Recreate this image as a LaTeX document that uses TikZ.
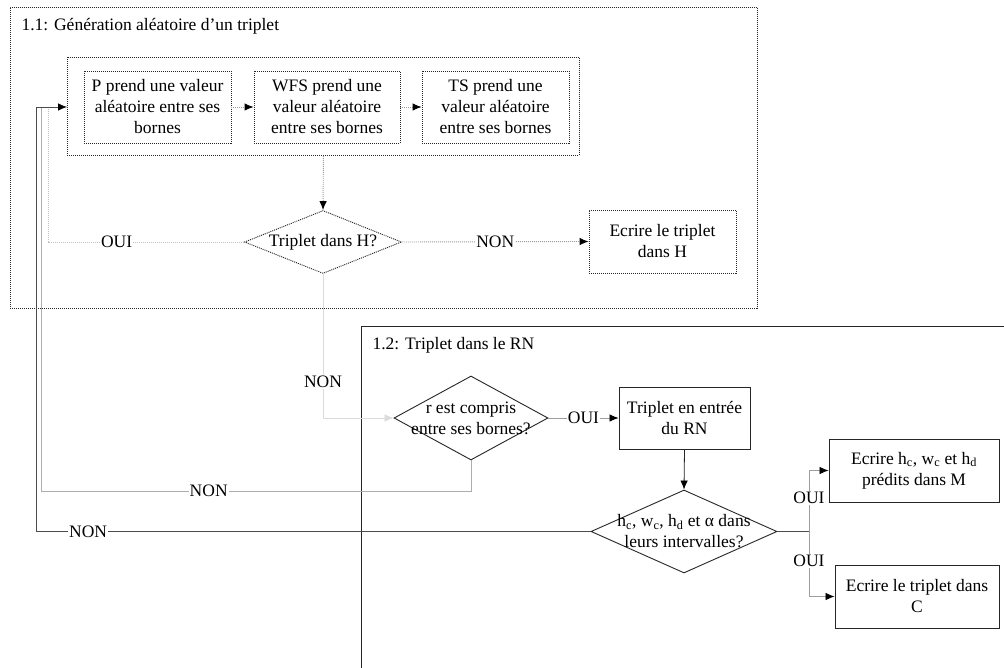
\documentclass[tikz,border=0pt]{standalone}
\usepackage{fontspec}
\setmainfont{Liberation Serif}
\usetikzlibrary{arrows.meta,shapes.geometric}
\definecolor{lgA}{gray}{0.62}
\definecolor{lgB}{gray}{0.86}
\definecolor{lgC}{gray}{0.68}
\definecolor{dkA}{gray}{0.30}
\tikzset{
  dotline/.style={dash pattern=on 1pt off 1pt, line width=0.9pt},
  dotbox/.style={draw=black!85, dotline, rectangle, inner sep=0pt, align=center},
  solidbox/.style={draw=black!85, line width=0.9pt, rectangle, inner sep=0pt, align=center},
  dotdiam/.style={draw=black!85, dotline, diamond, inner sep=0pt, minimum width=157pt, minimum height=63pt},
  soldiam/.style={draw=black!85, line width=0.9pt, diamond, inner sep=0pt},
  arr/.style={-{Latex[length=9pt,width=7.5pt,color=black]}},
  lbl/.style={fill=white, inner sep=1pt},
  conn/.style={line width=0.8pt},
}
\begin{document}
\begin{tikzpicture}[x=1pt,y=-1pt,font=\fontsize{17.5}{21}\selectfont]
\useasboundingbox (0,0) rectangle (1004,668);
\clip (0,0) rectangle (1004,668);
\fill[white] (0,0) rectangle (1004,668);

% ---- region 1.1
\node[dotbox, anchor=north west, minimum width=747pt, minimum height=301pt] (box11) at (10,7) {};
\node[anchor=west] (t11) at (18,26) {1.1: Génération aléatoire d’un triplet};
\node[dotbox, anchor=north west, minimum width=512pt, minimum height=98pt] (inner) at (67,57) {};
\node[dotbox, minimum width=147pt, minimum height=72pt] (P) at (157.5,107) {P prend une valeur\\aléatoire entre ses\\bornes};
\node[dotbox, minimum width=146pt, minimum height=72pt] (WFS) at (327,107) {WFS prend une\\valeur aléatoire\\entre ses bornes};
\node[dotbox, minimum width=147pt, minimum height=72pt] (TS) at (495.5,107) {TS prend une\\valeur aléatoire\\entre ses bornes};
\node[dotdiam, label={[align=center]center:Triplet dans H?}] (dH) at (323,242) {};
\node[dotbox, minimum width=147pt, minimum height=63pt] (EH) at (662.5,241.5) {Ecrire le triplet\\dans H};

% ---- region 1.2
\node[solidbox, anchor=north west, minimum width=700pt, minimum height=400pt] (box12) at (361,326) {};
\node[anchor=west] (t12) at (369,345) {1.2: Triplet dans le RN};
\node[soldiam, minimum width=154pt, minimum height=84pt, label={[align=center]center:r est compris\\entre ses bornes?}] (dr) at (471,418) {};
\node[solidbox, minimum width=131pt, minimum height=62pt] (TR) at (684.5,418) {Triplet en entrée\\du RN};
\node[soldiam, minimum width=186pt, minimum height=83pt, label={[align=center]center:h\textsubscript{c}, w\textsubscript{c}, h\textsubscript{d} et α dans\\leurs intervalles?}] (dh) at (684,531.5) {};
\node[solidbox, minimum width=170pt, minimum height=63pt] (M) at (914,470.5) {Ecrire h\textsubscript{c}, w\textsubscript{c} et h\textsubscript{d}\\prédits dans M};
\node[solidbox, minimum width=164pt, minimum height=63pt] (C) at (917,596.5) {Ecrire le triplet dans\\C};

% ---- coordinates for loops
\coordinate (cA) at (48,107);
\coordinate (cB) at (41,107);
\coordinate (cD) at (36,107);
\coordinate (split) at (809,531.5);

% ---- connectors in 1.1
\draw[conn, dotline, draw=lgA, arr] (P.east) -- (WFS.west);
\draw[conn, dotline, draw=lgA, arr] (WFS.east) -- (TS.west);
\draw[conn, dotline, draw=lgA, arr] (inner.south) -- (dH.north);
\draw[conn, dotline, draw=lgA, arr] (dH.east) -- node[lbl]{NON} (EH.west);
\draw[conn, dotline, draw=lgB!70!gray] (dH.west) -- node[lbl, pos=0.65]{OUI} (48,242) -- (cA);

% ---- NON from H? to r diamond
\draw[conn, draw=lgB, -{Latex[length=9pt,width=7.5pt,color=lgB]}] (dH.south) -- node[lbl, pos=0.75]{NON} (dH.south |- dr.west) -- (dr.west);

% ---- flow in 1.2
\draw[conn, draw=lgA, arr] (dr.east) -- node[lbl, pos=0.5]{OUI} (TR.west);
\draw[conn, draw=black!85, arr] (TR.south) -- (dh.north);
\draw[conn, draw=dkA] (dh.east) -- (split);
\draw[conn, draw=lgA, arr] (split) -- node[lbl, pos=0.55]{OUI} (split |- M.west) -- (M.west);
\draw[conn, draw=lgA, arr] (split) -- node[lbl, pos=0.45]{OUI} (split |- C.west) -- (C.west);

% ---- back loops
\draw[conn, draw=lgC] (dr.south) -- (471,491) -- node[lbl, pos=0.61]{NON} (41,491) -- (cB);
\draw[conn, draw=dkA] (dh.west) -- node[lbl, pos=0.906]{NON} (36,531.5) -- (cD);
\draw[conn, draw=dkA, arr] (cD) -- (inner.west |- cD);
\end{tikzpicture}
\end{document}
